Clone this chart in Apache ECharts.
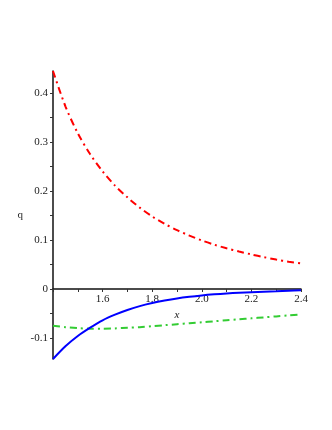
<!DOCTYPE html>
<html>
<head>
<meta charset="utf-8">
<script src="https://cdn.jsdelivr.net/npm/echarts@6/dist/echarts.min.js"></script>
<style>
html,body{margin:0;padding:0;background:#fff;}
#c{width:332px;height:430px;}
</style>
</head>
<body>
<div id="c"></div>
<script>
var xs = [1.40,1.45,1.50,1.55,1.60,1.65,1.70,1.75,1.80,1.85,1.90,1.95,2.00,2.05,2.10,2.15,2.20,2.25,2.30,2.35,2.40];
var redVals = [0.445,0.373,0.318,0.275,0.240,0.211,0.187,0.166,0.148,0.133,0.120,0.109,0.099,0.0905,0.083,0.0765,0.0705,0.065,0.060,0.0557,0.052];
var blueVals = [-0.143,-0.117,-0.096,-0.079,-0.064,-0.0525,-0.043,-0.035,-0.0288,-0.0237,-0.0194,-0.016,-0.0132,-0.011,-0.0092,-0.0078,-0.0066,-0.0055,-0.0045,-0.0035,-0.0026];
var greenVals = [-0.075,-0.078,-0.080,-0.081,-0.081,-0.0805,-0.079,-0.078,-0.076,-0.074,-0.072,-0.070,-0.068,-0.066,-0.064,-0.062,-0.060,-0.058,-0.056,-0.054,-0.052];
var xTickVals = [1.4,1.5,1.6,1.7,1.8,1.9,2.0,2.1,2.2,2.3,2.4];
var xLabelVals = [1.6,1.8,2.0,2.2,2.4];
var yTickVals = [-0.1,-0.05,0,0.05,0.1,0.15,0.2,0.25,0.3,0.35,0.4];
var yLabelVals = [-0.1,0,0.1,0.2,0.3,0.4];
var xName = 'x';
var yName = 'q';

function pairs(ys){ return xs.map(function(x,i){ return [x, ys[i]]; }); }

var chart = echarts.init(document.getElementById('c'), null, {renderer:'canvas'});
var fontFam = '"Liberation Serif", "DejaVu Serif", serif';
var yMin = -0.143, yMax = 0.445, gridTop = 71, gridBottom = 71, H = 430;
var plotH = H - gridTop - gridBottom;
var zeroOffset = -Math.round(plotH * (0 - yMin) / (yMax - yMin));
chart.setOption({
  animation: false,
  backgroundColor: '#ffffff',
  grid: {left: 53, right: 31, top: gridTop, bottom: gridBottom, containLabel: false},
  xAxis: {
    type: 'value', min: 1.4, max: 2.4, position: 'bottom', offset: zeroOffset,
    name: xName, nameLocation: 'middle', nameGap: 18,
    nameTextStyle: {fontFamily: fontFam, fontStyle: 'italic', fontSize: 11, color: '#222'},
    axisLine: {onZero: false, lineStyle: {color: '#111', width: 1.5}},
    axisTick: {show: true, length: 3, customValues: xTickVals, lineStyle: {color: '#333'}},
    axisLabel: {customValues: xLabelVals, fontFamily: fontFam, fontSize: 11, color: '#222', margin: 5,
      formatter: function(v){ return Number(v).toFixed(1); }},
    splitLine: {show: false}
  },
  yAxis: {
    type: 'value', min: yMin, max: yMax,
    name: yName, nameLocation: 'middle', nameGap: 30, nameRotate: 0,
    nameTextStyle: {fontFamily: fontFam, fontSize: 11, color: '#222'},
    axisLine: {show: true, onZero: false, lineStyle: {color: '#111', width: 1.5}},
    axisTick: {show: true, length: 3, customValues: yTickVals, lineStyle: {color: '#333'}},
    axisLabel: {customValues: yLabelVals, fontFamily: fontFam, fontSize: 11, color: '#222', margin: 5,
      formatter: function(v){ return Math.abs(v) < 1e-9 ? '0' : Number(v).toFixed(1); }},
    splitLine: {show: false}
  },
  series: [
    {type: 'line', data: pairs(redVals), showSymbol: false, smooth: 0.3, clip: true,
      lineStyle: {color: '#ff0000', width: 2, type: [7,4,2,4]}},
    {type: 'line', data: pairs(greenVals), showSymbol: false, smooth: 0.3, clip: true,
      lineStyle: {color: '#33cc33', width: 2, type: [7,4,2,4]}},
    {type: 'line', data: pairs(blueVals), showSymbol: false, smooth: 0.3, clip: true,
      lineStyle: {color: '#0000ff', width: 2}}
  ]
});
</script>
</body>
</html>
